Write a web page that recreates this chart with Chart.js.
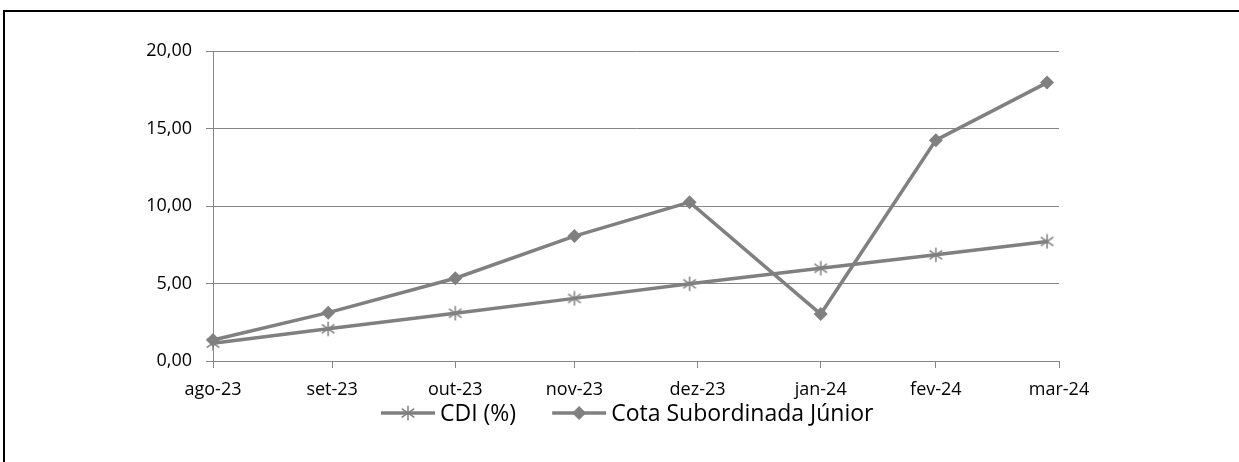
<!DOCTYPE html>
<html><head><meta charset="utf-8">
<script src="https://cdn.jsdelivr.net/npm/chart.js@4.4.1/dist/chart.umd.min.js"></script>
<style>
html,body{margin:0;padding:0;background:#fff;}
#wrap{position:relative;width:1239px;height:462px;overflow:hidden;}
#frame{position:absolute;left:3px;top:10px;width:1300px;height:500px;border-top:2px solid #000;border-left:2px solid #000;box-sizing:border-box;}
#c{position:absolute;left:0;top:0;}
</style></head><body>
<div id="wrap"><div id="frame"></div><canvas id="c" width="1239" height="462"></canvas></div>
<script>
// ---- data ----
const pointDates = ['2023-08-31','2023-09-29','2023-10-31','2023-11-30','2023-12-29','2024-01-31','2024-02-29','2024-03-28'];
const cdiValues  = [1.15, 2.08, 3.08, 4.04, 4.98, 5.98, 6.85, 7.71];
const cotaValues = [1.35, 3.12, 5.34, 8.06, 10.25, 3.03, 14.25, 17.96];
const tickDates  = ['2023-08-31','2023-09-30','2023-10-31','2023-11-30','2023-12-31','2024-01-31','2024-02-29','2024-03-31'];
const tickLabels = ['ago-23','set-23','out-23','nov-23','dez-23','jan-24','fev-24','mar-24'];
const seriesLabels = ['CDI (%)','Cota Subordinada Júnior'];
const yMin = 0, yMax = 20, yStep = 5;

// ---- helpers ----
const FONT = "'Open Sans', sans-serif";
const GRAY = '#808080';
const GRID = '#868686';
const t0 = Date.parse(tickDates[0]);
const day = d => Math.round((Date.parse(d) - t0) / 86400000);

function starCanvas(size){
  const c = document.createElement('canvas');
  c.width = size; c.height = size;
  const g = c.getContext('2d');
  g.strokeStyle = GRAY; g.lineWidth = 1.5;
  const m = size/2, r = size/2 - 0.75;
  g.beginPath();
  g.moveTo(m, m - r); g.lineTo(m, m + r);
  const dx = r*0.87, dy = r*0.6;
  g.moveTo(m - dx, m - dy); g.lineTo(m + dx, m + dy);
  g.moveTo(m - dx, m + dy); g.lineTo(m + dx, m - dy);
  g.stroke();
  return c;
}
const star = starCanvas(16);

const legendPlugin = {
  id: 'lineLegend',
  afterDraw(chart){
    const ctx = chart.ctx;
    const y = 413, sampleW = 54, gapT = 5, gapItems = 36, center = 627.5;
    ctx.save();
    ctx.font = "23px " + FONT;
    const items = chart.data.datasets.map(ds => ({ds, w: ctx.measureText(ds.label).width}));
    let total = 0;
    items.forEach((it,i) => { total += sampleW + gapT + it.w + (i ? gapItems : 0); });
    let x = Math.round(center - total/2);
    items.forEach((it,i) => {
      if (i) x += gapItems;
      ctx.strokeStyle = it.ds.borderColor; ctx.lineWidth = it.ds.borderWidth;
      ctx.beginPath(); ctx.moveTo(x, y); ctx.lineTo(x + sampleW, y); ctx.stroke();
      const mx = x + sampleW/2;
      if (it.ds.pointStyle === 'rectRot') {
        ctx.fillStyle = it.ds.backgroundColor;
        const r = it.ds.pointRadius;
        ctx.beginPath(); ctx.moveTo(mx, y - r); ctx.lineTo(mx + r, y); ctx.lineTo(mx, y + r); ctx.lineTo(mx - r, y); ctx.closePath(); ctx.fill();
      } else {
        ctx.drawImage(it.ds.pointStyle, mx - star.width/2, y - star.height/2);
      }
      x += sampleW + gapT;
      ctx.fillStyle = '#000'; ctx.textBaseline = 'middle'; ctx.textAlign = 'left';
      ctx.fillText(it.ds.label, x, y + 1);
      x += it.w;
    });
    ctx.restore();
  }
};

new Chart(document.getElementById('c'), {
  type: 'line',
  data: {
    datasets: [
      { label: seriesLabels[0], data: pointDates.map((d,i) => ({x: day(d), y: cdiValues[i]})),
        borderColor: GRAY, backgroundColor: GRAY, borderWidth: 3.5, pointStyle: star, pointRadius: 8,
        tension: 0, clip: false, order: 1 },
      { label: seriesLabels[1], data: pointDates.map((d,i) => ({x: day(d), y: cotaValues[i]})),
        borderColor: GRAY, backgroundColor: GRAY, borderWidth: 3.5, pointStyle: 'rectRot', pointRadius: 7,
        pointBorderWidth: 0, tension: 0, clip: false, order: 0 }
    ]
  },
  options: {
    responsive: false, animation: false, devicePixelRatio: 1,
    layout: { padding: { left: 0, right: 180, top: 51, bottom: 61 } },
    plugins: { legend: { display: false }, tooltip: { enabled: false } },
    scales: {
      x: {
        type: 'linear', min: 0, max: day(tickDates[tickDates.length-1]),
        afterBuildTicks: s => { s.ticks = tickDates.map(d => ({value: day(d)})); },
        afterFit: s => { s.height = 40; },
        ticks: { autoSkip: false, maxRotation: 0, color: '#000', padding: 11,
          font: { family: FONT, size: 18 }, callback: (v, i) => tickLabels[i] },
        grid: { drawOnChartArea: false, drawTicks: true, tickLength: 7, color: GRID },
        border: { display: true, color: GRID, width: 1 }
      },
      y: {
        min: yMin, max: yMax,
        afterFit: s => { s.width = 213; },
        ticks: { stepSize: yStep, color: '#000', padding: 14, font: { family: FONT, size: 18 },
          callback: v => v.toFixed(2).replace('.', ',') },
        grid: { color: GRID, lineWidth: 1, tickLength: 7 },
        border: { display: true, color: GRID, width: 1 }
      }
    }
  },
  plugins: [legendPlugin]
});
</script>
</body></html>
